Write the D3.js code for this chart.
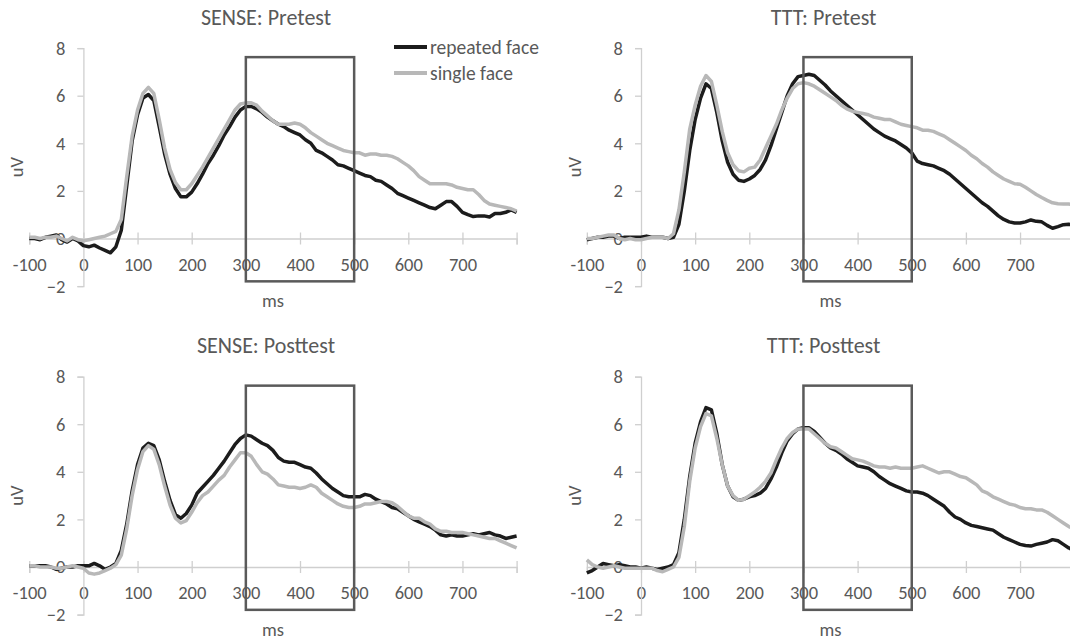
<!DOCTYPE html>
<html>
<head>
<meta charset="utf-8">
<script src="https://cdn.jsdelivr.net/npm/d3@7.9.0/dist/d3.min.js"></script>
<style>
  html, body { margin: 0; padding: 0; background: #fff; }
  svg { display: block; }
  text { font-family: Carlito, Lato, "Liberation Sans", sans-serif; fill: #595959; }
</style>
</head>
<body>
<svg id="chart" width="1070" height="641"></svg>
<script>
// time points, -100..800 ms every 10 ms
const times = d3.range(-100, 801, 10);
const xTicks = [-100, 0, 100, 200, 300, 400, 500, 600, 700, 800];
const yTicks = [-2, 0, 2, 4, 6, 8];
const seriesNames = ['repeated face', 'single face'];
const titles = ['SENSE: Pretest', 'TTT: Pretest', 'SENSE: Posttest', 'TTT: Posttest'];
const windowMs = [300, 500];
const windowUv = [-1.8, 7.62];

// SENSE pretest
const sensePreRep = [
  0.0, 0.0, -0.05, 0.05, 0.1, 0.15, -0.05, -0.15, 0.0, -0.1,
  -0.3, -0.35, -0.28, -0.4, -0.5, -0.6, -0.35, 0.35, 2.2, 4.1,
  5.2, 5.9, 6.05, 5.8, 4.7, 3.55, 2.7, 2.1, 1.75, 1.75,
  1.95, 2.3, 2.7, 3.15, 3.5, 3.9, 4.35, 4.7, 5.1, 5.4,
  5.55, 5.55, 5.45, 5.3, 5.1, 4.95, 4.8, 4.7, 4.55, 4.45,
  4.35, 4.15, 4.0, 3.7, 3.6, 3.45, 3.3, 3.1, 3.05, 2.95,
  2.85, 2.75, 2.65, 2.6, 2.45, 2.4, 2.25, 2.1, 1.9, 1.8,
  1.7, 1.6, 1.5, 1.4, 1.3, 1.25, 1.4, 1.55, 1.55, 1.35,
  1.1, 1.0, 0.92, 0.95, 0.95, 0.9, 1.05, 1.05, 1.1, 1.2,
  1.1
];
const sensePreSgl = [
  0.05, 0.05, 0.0, 0.05, 0.05, 0.1, 0.0, -0.1, 0.05, -0.05,
  -0.1, -0.05, 0.0, 0.05, 0.1, 0.2, 0.3, 0.8, 2.6, 4.3,
  5.4, 6.1, 6.35, 6.1, 5.0, 3.8, 2.9, 2.35, 2.05, 2.05,
  2.3, 2.65, 3.0, 3.4, 3.8, 4.2, 4.6, 5.0, 5.4, 5.65,
  5.7, 5.7, 5.6, 5.35, 5.15, 4.95, 4.8, 4.8, 4.8, 4.85,
  4.8, 4.65, 4.45, 4.3, 4.15, 4.0, 3.9, 3.8, 3.7, 3.65,
  3.6, 3.6, 3.5, 3.55, 3.55, 3.5, 3.5, 3.45, 3.35, 3.2,
  3.05, 2.85, 2.6, 2.45, 2.3, 2.3, 2.3, 2.3, 2.25, 2.15,
  2.1, 2.05, 2.05, 1.85, 1.6, 1.45, 1.4, 1.35, 1.3, 1.25,
  1.15
];

// TTT pretest
const tttPreRep = [
  -0.05, 0.0, 0.05, 0.05, 0.1, 0.1, 0.0, 0.05, 0.05, 0.05,
  0.05, 0.1, 0.05, 0.05, 0.05, 0.0, 0.05, 0.6, 2.0, 3.7,
  5.0, 5.9, 6.5, 6.3, 5.3, 4.1, 3.2, 2.7, 2.45, 2.4,
  2.5, 2.65, 2.9, 3.3, 3.9, 4.6, 5.3, 6.0, 6.5, 6.8,
  6.85, 6.9, 6.85, 6.65, 6.45, 6.2, 6.0, 5.8, 5.6, 5.4,
  5.2, 5.0, 4.8, 4.6, 4.45, 4.3, 4.2, 4.1, 3.95, 3.8,
  3.6, 3.25, 3.15, 3.1, 3.05, 2.95, 2.85, 2.7, 2.5, 2.3,
  2.1, 1.9, 1.7, 1.5, 1.35, 1.15, 0.95, 0.8, 0.7, 0.65,
  0.65, 0.7, 0.78, 0.72, 0.7, 0.55, 0.43, 0.5, 0.58, 0.6,
  0.55
];
const tttPreSgl = [
  0.0, 0.0, 0.05, 0.1, 0.15, 0.15, 0.0, -0.05, 0.0, -0.05,
  -0.05, 0.0, 0.05, 0.05, 0.05, 0.0, 0.2, 1.2, 2.8, 4.6,
  5.6, 6.4, 6.85, 6.6, 5.6, 4.5, 3.6, 3.1, 2.85, 2.8,
  2.95, 3.0, 3.3, 3.8, 4.3, 4.8, 5.4, 5.9, 6.3, 6.5,
  6.55, 6.5, 6.4, 6.25, 6.1, 5.95, 5.8, 5.6, 5.45, 5.35,
  5.3, 5.25, 5.2, 5.1, 5.05, 5.0, 5.0, 4.9, 4.8, 4.75,
  4.7, 4.65, 4.55, 4.55, 4.5, 4.4, 4.3, 4.15, 4.0, 3.85,
  3.7, 3.5, 3.35, 3.15, 3.0, 2.8, 2.65, 2.5, 2.4, 2.3,
  2.28, 2.15, 2.0, 1.85, 1.72, 1.6, 1.5, 1.46, 1.45, 1.45,
  1.4
];

// SENSE posttest
const sensePostRep = [
  0.05, 0.05, 0.05, 0.05, 0.0, -0.1, -0.05, 0.0, 0.0, 0.05,
  0.05, 0.05, 0.15, 0.05, -0.1, 0.0, 0.15, 0.7, 1.8, 3.2,
  4.3, 5.0, 5.2, 5.1, 4.5, 3.6, 2.8, 2.2, 2.05, 2.25,
  2.6, 3.1, 3.35, 3.6, 3.85, 4.15, 4.45, 4.8, 5.15, 5.4,
  5.55, 5.5, 5.35, 5.2, 5.1, 4.9, 4.6, 4.45, 4.4, 4.4,
  4.3, 4.2, 4.15, 3.95, 3.7, 3.5, 3.3, 3.15, 3.0, 2.95,
  2.95, 2.95, 3.05, 3.0, 2.85, 2.75, 2.65, 2.5, 2.45, 2.3,
  2.15, 2.0, 1.9, 1.8, 1.7, 1.55, 1.35, 1.3, 1.35, 1.3,
  1.3, 1.35, 1.4, 1.35, 1.4, 1.45, 1.35, 1.3, 1.2, 1.25,
  1.3
];
const sensePostSgl = [
  0.05, 0.05, 0.0, 0.0, 0.0, -0.05, -0.05, 0.0, 0.05, 0.0,
  -0.05, -0.25, -0.3, -0.25, -0.15, -0.05, 0.1, 0.5, 1.6, 3.0,
  4.1, 4.85, 5.1, 4.95, 4.3, 3.4, 2.6, 2.05, 1.85, 1.95,
  2.3, 2.7, 3.0, 3.15, 3.4, 3.65, 3.85, 4.2, 4.5, 4.8,
  4.8, 4.65, 4.3, 4.0, 3.9, 3.7, 3.45, 3.4, 3.35, 3.35,
  3.3, 3.35, 3.45, 3.35, 3.1, 2.95, 2.8, 2.65, 2.55, 2.5,
  2.5, 2.55, 2.65, 2.65, 2.7, 2.75, 2.75, 2.7, 2.55, 2.35,
  2.15, 2.05, 2.05, 1.9, 1.8, 1.6, 1.5, 1.5, 1.45, 1.45,
  1.45, 1.4, 1.35, 1.3, 1.25, 1.2, 1.2, 1.1, 1.0, 0.9,
  0.8
];

// TTT posttest
const tttPostRep = [
  -0.25, -0.15, 0.0, 0.15, 0.1, 0.05, 0.1, 0.05, 0.0, 0.0,
  -0.05, 0.0, -0.05, -0.1, -0.05, 0.0, 0.1, 0.6, 2.0, 3.8,
  5.2, 6.1, 6.7, 6.6, 5.6, 4.3, 3.4, 2.95, 2.8, 2.85,
  2.95, 3.0, 3.1, 3.3, 3.7, 4.2, 4.8, 5.3, 5.6, 5.8,
  5.85, 5.85, 5.7, 5.45, 5.2, 5.0, 4.9, 4.75, 4.55, 4.4,
  4.25, 4.2, 4.15, 4.0, 3.8, 3.65, 3.5, 3.4, 3.3, 3.2,
  3.15, 3.15, 3.1, 3.0, 2.85, 2.7, 2.55, 2.3, 2.1, 2.0,
  1.85, 1.75, 1.7, 1.65, 1.6, 1.55, 1.4, 1.25, 1.15, 1.05,
  0.95, 0.9, 0.88, 0.95, 1.0, 1.05, 1.15, 1.1, 0.95, 0.8,
  0.7
];
const tttPostSgl = [
  0.3, 0.1, 0.0, -0.05, 0.0, 0.05, 0.0, -0.05, -0.05, -0.05,
  -0.05, -0.05, -0.05, -0.15, -0.2, -0.1, 0.0, 0.4, 1.7, 3.6,
  5.0, 5.9, 6.45, 6.35, 5.4, 4.3, 3.4, 3.0, 2.8, 2.85,
  3.0, 3.15, 3.35, 3.6, 3.95, 4.5, 5.0, 5.4, 5.65, 5.8,
  5.8, 5.8, 5.6, 5.4, 5.2, 5.05, 5.0, 4.85, 4.7, 4.55,
  4.5, 4.45, 4.35, 4.25, 4.2, 4.2, 4.15, 4.2, 4.15, 4.15,
  4.15, 4.2, 4.25, 4.15, 4.05, 3.95, 4.0, 4.0, 3.9, 3.8,
  3.75, 3.6, 3.45, 3.2, 3.1, 2.95, 2.85, 2.75, 2.65, 2.6,
  2.5, 2.45, 2.45, 2.4, 2.4, 2.3, 2.15, 2.0, 1.85, 1.7,
  1.6
];

const panels = [
  { title: titles[0], ox: 83.4, oy: 238.5, rep: sensePreRep, sgl: sensePreSgl, legend: true },
  { title: titles[1], ox: 641, oy: 238.5, rep: tttPreRep, sgl: tttPreSgl },
  { title: titles[2], ox: 83.4, oy: 567, rep: sensePostRep, sgl: sensePostSgl },
  { title: titles[3], ox: 641, oy: 567, rep: tttPostRep, sgl: tttPostSgl }
];

const axisColor = '#cfcfcf';
const colors = ['#1c1c1c', '#b8b8b8'];
const tickFont = 18.5;
const svg = d3.select('#chart');

function drawPanel(p) {
  const g = svg.append('g');
  const x = d3.scaleLinear().domain([-100, 800]).range([p.ox - 54.15, p.ox + 433.2]);
  const y = d3.scaleLinear().domain([-2, 8]).range([p.oy + 47.6, p.oy - 190.4]);

  // x axis through y = 0, ticks crossing the line
  const xa = g.append('g')
    .attr('transform', `translate(0,${y(0)})`)
    .call(d3.axisBottom(x).tickValues(xTicks).tickSize(6).tickPadding(0)
      .tickFormat(d => d === 800 ? '' : d));
  xa.select('.domain').attr('stroke', axisColor).attr('stroke-width', 1.3);
  xa.selectAll('.tick line').attr('y1', -6).attr('y2', 6)
    .attr('stroke', axisColor).attr('stroke-width', 1.3);
  xa.selectAll('.tick text').attr('y', 26).attr('dy', '0.35em')
    .attr('font-size', tickFont).attr('font-family', null).attr('fill', '#595959');

  // y axis at x = 0
  const ya = g.append('g')
    .attr('transform', `translate(${x(0)},0)`)
    .call(d3.axisLeft(y).tickValues(yTicks).tickSize(6).tickPadding(12));
  ya.select('.domain').attr('stroke', axisColor).attr('stroke-width', 1.3);
  ya.selectAll('.tick line').attr('stroke', axisColor).attr('stroke-width', 1.3);
  ya.selectAll('.tick text').attr('font-size', tickFont).attr('font-family', null)
    .attr('fill', '#595959');

  // waveforms
  const line = d3.line().x((d, i) => x(times[i])).y(d => y(d));
  [p.rep, p.sgl].forEach((s, i) => {
    g.append('path').datum(s)
      .attr('d', line)
      .attr('fill', 'none')
      .attr('stroke', colors[i])
      .attr('stroke-width', 3.5)
      .attr('stroke-linejoin', 'round');
  });

  // analysis window
  g.append('rect')
    .attr('x', x(windowMs[0]))
    .attr('y', y(windowUv[1]))
    .attr('width', x(windowMs[1]) - x(windowMs[0]))
    .attr('height', y(windowUv[0]) - y(windowUv[1]))
    .attr('fill', 'none')
    .attr('stroke', '#5a5a5a')
    .attr('stroke-width', 2.5);

  // titles and axis labels
  g.append('text')
    .attr('x', p.ox + 182.6).attr('y', p.oy - 221.5)
    .attr('text-anchor', 'middle').attr('dominant-baseline', 'central')
    .attr('font-size', 22).text(p.title);
  g.append('text')
    .attr('x', x(350)).attr('y', p.oy + 68.5)
    .attr('text-anchor', 'middle')
    .attr('font-size', tickFont).text('ms');
  g.append('text')
    .attr('transform', `translate(${p.ox - 67},${y(3)}) rotate(-90)`)
    .attr('text-anchor', 'middle').attr('dominant-baseline', 'central')
    .attr('font-size', tickFont).text('uV');

  if (p.legend) {
    seriesNames.forEach((name, i) => {
      const ly = 47 + i * 26;
      g.append('line')
        .attr('x1', 394).attr('x2', 427).attr('y1', ly).attr('y2', ly)
        .attr('stroke', colors[i]).attr('stroke-width', 4);
      g.append('text')
        .attr('x', 430).attr('y', ly)
        .attr('dominant-baseline', 'central')
        .attr('font-size', 19.5).text(name);
    });
  }
}

panels.forEach(drawPanel);
</script>
</body>
</html>
